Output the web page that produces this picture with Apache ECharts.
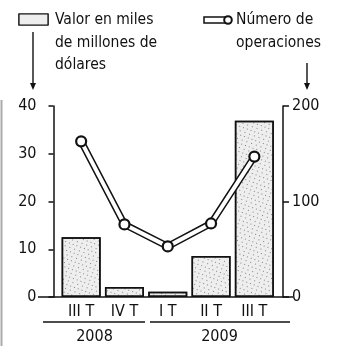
<!DOCTYPE html>
<html>
<head>
<meta charset="utf-8">
<script src="https://cdn.jsdelivr.net/npm/echarts@6/dist/echarts.min.js"></script>
<style>
  html, body { margin: 0; padding: 0; background: #fff; }
  #chart { width: 341px; height: 346px; }
</style>
</head>
<body>
<div id="chart"></div>
<script>
// Quarters and yearly grouping
const quarters = ['III T', 'IV T', 'I T', 'II T', 'III T'];
const years = ['2008', '2009'];
// Deal value, thousands of millions of dollars (left axis)
const valorMilesMillones = [12.5, 2.1, 1.1, 8.6, 36.9];
// Number of operations (right axis)
const numeroOperaciones = [163, 76, 53, 77, 147];
// Axis tick values
const leftTicks = [0, 10, 20, 30, 40];
const rightTicks = [0, 100, 200];

const FONT = '"DejaVu Sans Condensed", "DejaVu Sans", sans-serif';
const INK = '#111';

const chart = echarts.init(document.getElementById('chart'), null, { renderer: 'canvas' });

const stipple = {
  symbol: 'rect',
  symbolSize: 1,
  color: 'rgba(0,0,0,0.45)',
  dashArrayX: [[1, 3], [1, 4]],
  dashArrayY: [1, 3],
  rotation: 0.35
};

function arrow(x, y1, y2) {
  return [
    { type: 'line', shape: { x1: x, y1: y1, x2: x, y2: y2 - 6 }, style: { stroke: INK, lineWidth: 1.4 } },
    { type: 'polygon', shape: { points: [[x - 3, y2 - 7], [x + 3, y2 - 7], [x, y2]] }, style: { fill: INK } }
  ];
}

const option = {
  animation: false,
  backgroundColor: '#fff',
  grid: { left: 59.5, right: 65, top: 106, bottom: 49 },
  xAxis: {
    type: 'category',
    data: quarters,
    axisLine: { show: false },
    axisTick: { show: false },
    axisLabel: { color: INK, fontFamily: FONT, fontSize: 16, margin: 7 }
  },
  yAxis: [
    {
      type: 'value', min: leftTicks[0], max: leftTicks[leftTicks.length - 1], interval: 10,
      position: 'left', offset: 6,
      splitLine: { show: false },
      axisLine: { show: true, lineStyle: { color: INK, width: 1.5 } },
      axisTick: { show: true, length: 5, lineStyle: { color: INK, width: 1.5 } },
      axisLabel: { color: INK, fontFamily: FONT, fontSize: 16, margin: 17 }
    },
    {
      type: 'value', min: rightTicks[0], max: rightTicks[rightTicks.length - 1], interval: 100,
      position: 'right', offset: 7,
      splitLine: { show: false },
      axisLine: { show: true, lineStyle: { color: INK, width: 1.5 } },
      axisTick: { show: true, length: 6, lineStyle: { color: INK, width: 1.5 } },
      axisLabel: { color: INK, fontFamily: FONT, fontSize: 16, margin: 9 }
    }
  ],
  series: [
    {
      name: 'Valor en miles de millones de dólares',
      type: 'bar',
      yAxisIndex: 0,
      data: valorMilesMillones,
      barWidth: 39,
      z: 1,
      itemStyle: { color: '#eeeeee', borderColor: INK, borderWidth: 1.5, decal: stipple }
    },
    {
      // dark outer stroke of the outlined line
      type: 'line', yAxisIndex: 1, data: numeroOperaciones,
      symbol: 'none', z: 2,
      lineStyle: { color: INK, width: 7 }
    },
    {
      name: 'Número de operaciones',
      type: 'line', yAxisIndex: 1, data: numeroOperaciones,
      symbol: 'circle', symbolSize: 10, z: 5,
      lineStyle: { color: '#ffffff', width: 4 },
      itemStyle: { color: '#ffffff', borderColor: INK, borderWidth: 2.2 }
    }
  ],
  graphic: [
    // page edge rule
    { type: 'line', shape: { x1: 1.5, y1: 100, x2: 1.5, y2: 346 }, style: { stroke: '#aaa', lineWidth: 2 } },
    // baseline
    { type: 'line', shape: { x1: 38, y1: 297, x2: 293, y2: 297 }, style: { stroke: INK, lineWidth: 1.6 } },
    // year brackets
    { type: 'line', shape: { x1: 43, y1: 322, x2: 145, y2: 322 }, style: { stroke: INK, lineWidth: 1.4 } },
    { type: 'line', shape: { x1: 150, y1: 322, x2: 290, y2: 322 }, style: { stroke: INK, lineWidth: 1.4 } },
    { type: 'text', x: 94.5, y: 337, style: { text: years[0], fill: INK, font: '16px ' + FONT, textAlign: 'center', textVerticalAlign: 'middle' } },
    { type: 'text', x: 219.5, y: 337, style: { text: years[1], fill: INK, font: '16px ' + FONT, textAlign: 'center', textVerticalAlign: 'middle' } },
    // legend: bars
    { type: 'rect', shape: { x: 19, y: 14, width: 29, height: 11 }, style: { fill: '#eee', stroke: INK, lineWidth: 1.2, decal: stipple } },
    { type: 'text', x: 55, y: 9, style: { text: 'Valor en miles\nde millones de\ndólares', fill: INK, font: '15.5px ' + FONT, lineHeight: 22.5 } },
    ...arrow(33, 32, 90),
    // legend: line
    { type: 'rect', shape: { x: 204, y: 17, width: 22, height: 6 }, style: { fill: '#fff', stroke: INK, lineWidth: 1.5 } },
    { type: 'circle', shape: { cx: 228, cy: 20, r: 3.8 }, style: { fill: '#fff', stroke: INK, lineWidth: 2 } },
    { type: 'text', x: 236, y: 9, style: { text: 'Número de\noperaciones', fill: INK, font: '15.5px ' + FONT, lineHeight: 22.5 } },
    ...arrow(307, 63, 90)
  ]
};

chart.setOption(option);
</script>
</body>
</html>
